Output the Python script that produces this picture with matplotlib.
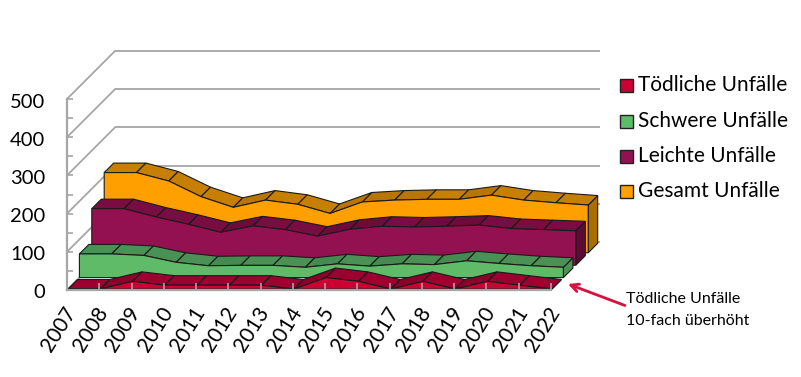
import numpy as np
import matplotlib
matplotlib.use('Agg')
import matplotlib.pyplot as plt
from matplotlib.patches import Rectangle
from matplotlib.transforms import Affine2D

plt.rcParams['font.family'] = ['Lato', 'DejaVu Sans']

years = list(range(2007, 2023))
names = ['Tödliche Unfälle', 'Schwere Unfälle', 'Leichte Unfälle', 'Gesamt Unfälle']

# toedliche are already 10x, as in the chart
toedlich = [0, 0, 20, 10, 10, 10, 10, 0, 30, 20, 0, 20, 0, 20, 10, 0]
schwer = [62, 62, 58, 40, 31, 32, 32, 27, 36, 30, 36, 34, 44, 37, 31, 27]
leicht = [148, 148, 126, 107, 86, 103, 93, 76, 94, 102, 100, 102, 105, 96, 93, 90]
gesamt = [210, 210, 188, 147, 119, 138, 127, 103, 133, 138, 140, 140, 151, 138, 131, 125]

# front, top, rising top, side
colors = [('#CC0033', '#9C0030', '#8E002C', '#7A0026'),
          ('#60BB68', '#4B9155', '#458A50', '#4B9155'),
          ('#941151', '#770D41', '#6C0C3B', '#5C0B33'),
          ('#FFA000', '#C77F00', '#B87500', '#A86E00')]
series = [toedlich, schwer, leicht, gesamt]

slot = 12.4       # depth of one series in pixels
strip = 9.5       # depth of the top face
wall = 48         # depth of the whole chart
grey = '#A6A6A6'

W, H = 801, 377
fig = plt.figure(figsize=(W / 100, H / 100), dpi=100)
ax = fig.add_axes([67 / W, (H - 290) / H, 484 / W, 191 / H])
ax.patch.set_visible(False)
ax.set_xlim(0, 15)
ax.set_ylim(0, 500)


def shifted(d):
    return ax.transData + Affine2D().translate(d, d)


# walls
for v in range(0, 501, 100):
    p0 = ax.transData.transform((0, v))
    ax.plot([0, 15 + (600 - 115 - 484) / 32.27], [v, v], color=grey, lw=1.3,
            transform=shifted(wall), clip_on=False, zorder=0.5, solid_capstyle='butt')
    back = ax.transData.inverted().transform(p0 + wall)
    ax.plot([0, back[0]], [v, back[1]], color=grey, lw=1.3, clip_on=False, zorder=0.5)

# back to front
x = np.arange(len(years))
inv = ax.transData.inverted()
for k in [3, 2, 1, 0]:
    y = np.array(series[k], dtype=float)
    front, top, rising, side = colors[k]
    d = 1 + k * slot - (k > 0) * 1
    tr = shifted(d)
    pf = tr.transform(np.column_stack([x, y]))
    pb = pf + strip
    base = tr.transform((x[-1], 0))
    z = 1 + (3 - k) * 0.1
    # side
    poly = np.array([pf[-1], pb[-1], base + strip, base])
    ax.fill(*inv.transform(poly).T, facecolor=side, edgecolor='#1a1a1a', lw=0.8,
            clip_on=False, zorder=z)
    # top face, segment by segment
    for i in range(len(x) - 1):
        poly = np.array([pf[i], pf[i + 1], pb[i + 1], pb[i]])
        fc = rising if y[i + 1] > y[i] else top
        ax.fill(*inv.transform(poly).T, facecolor=fc, edgecolor='#1a1a1a', lw=0.8,
                clip_on=False, zorder=z)
    # front face
    ax.fill(np.r_[x, x[-1], x[0]], np.r_[y, 0, 0], facecolor=front, edgecolor='#1a1a1a',
            lw=0.8, transform=tr, clip_on=False, zorder=z)

# axes
for s in ['top', 'right']:
    ax.spines[s].set_visible(False)
for s in ['left', 'bottom']:
    ax.spines[s].set_color(grey)
    ax.spines[s].set_linewidth(1.6)
    ax.spines[s].set_zorder(3)
ax.set_xticks(x)
ax.set_xticklabels(years, rotation=58, ha='right', va='top', rotation_mode='anchor', fontsize=15)
ax.set_yticks(range(0, 501, 100))
ax.set_yticks(range(50, 500, 100), minor=True)
ax.tick_params(axis='x', direction='in', length=5, width=1.2, color=grey, pad=10, labelcolor='black')
ax.tick_params(axis='y', which='major', direction='in', length=4, width=1.2, color=grey, pad=15.5, labelsize=14.5)
ax.tick_params(axis='y', which='minor', direction='in', length=4, width=1.2, color=grey)
for t in ax.get_xticklines() + ax.get_yticklines() + ax.yaxis.get_minorticklines():
    t.set_zorder(3)
for lab in ax.get_xticklabels():
    lab.set_transform(lab.get_transform() + Affine2D().translate(-4, 0))
for lab in ax.get_yticklabels():
    lab.set_transform(lab.get_transform() + Affine2D().translate(0, -1.5))

# legend
for name, c, ypx in zip(names, colors, [85, 121, 156, 191]):
    fig.add_artist(Rectangle((619.5 / W, 1 - (ypx + 6.5) / H), 13 / W, 13 / H, facecolor=c[0],
                             edgecolor='#222222', lw=1, transform=fig.transFigure))
    fig.text(638 / W, 1 - ypx / H, name, fontsize=15, va='center', ha='left', color='black')

# note
ax.annotate('', xy=(568 / W, 1 - 284 / H), xycoords='figure fraction',
            xytext=(625 / W, 1 - 305.5 / H), textcoords='figure fraction',
            arrowprops=dict(arrowstyle='->', color='#D6103F', lw=2, mutation_scale=14,
                            shrinkA=0, shrinkB=0))
fig.text(626 / W, 1 - 299 / H, 'Tödliche Unfälle', fontsize=11.5, va='center', ha='left')
fig.text(626 / W, 1 - 321 / H, '10-fach überhöht', fontsize=11.5, va='center', ha='left')

fig.savefig('out.png', dpi=100)
